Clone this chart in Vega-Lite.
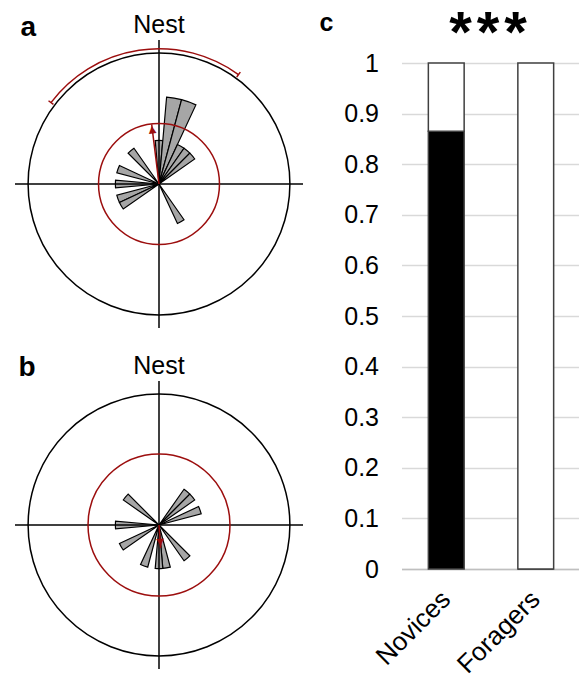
{
  "$schema": "https://vega.github.io/schema/vega-lite/v6.json",
  "padding": {"left": 14, "top": 0, "right": 0, "bottom": 0},
  "background": "white",
  "config": {"view": {"stroke": null}, "font": "Liberation Sans"},
  "datasets": {
    "petalsA": [
      {"from": -5, "to": 5, "count": 1},
      {"from": 5, "to": 15, "count": 2},
      {"from": 15, "to": 25, "count": 2},
      {"from": 25, "to": 35, "count": 1},
      {"from": 35, "to": 45, "count": 1},
      {"from": 45, "to": 55, "count": 1},
      {"from": -45, "to": -35, "count": 1},
      {"from": -75, "to": -65, "count": 1},
      {"from": -95, "to": -85, "count": 1},
      {"from": -115, "to": -105, "count": 1},
      {"from": -125, "to": -115, "count": 1},
      {"from": 145, "to": 155, "count": 1}
    ],
    "petalsB": [
      {"from": 35, "to": 45, "count": 1},
      {"from": 45, "to": 55, "count": 1},
      {"from": 65, "to": 75, "count": 1},
      {"from": -55, "to": -45, "count": 1},
      {"from": -95, "to": -85, "count": 1},
      {"from": -125, "to": -115, "count": 1},
      {"from": -165, "to": -155, "count": 1},
      {"from": 165, "to": 175, "count": 1},
      {"from": 175, "to": 185, "count": 1},
      {"from": 135, "to": 145, "count": 1}
    ],
    "meanA": [{"angle": -7, "length": 1.375, "ci_lo": -53, "ci_hi": 36}],
    "meanB": [{"angle": 176, "length": 0.53}],
    "bars": [
      {"group": "Novices", "response": "toward nest", "proportion": 0.865},
      {"group": "Novices", "response": "away", "proportion": 0.135},
      {"group": "Foragers", "response": "toward nest", "proportion": 0},
      {"group": "Foragers", "response": "away", "proportion": 1}
    ]
  },
  "spacing": 15.5,
  "hconcat": [
    {
      "spacing": 12,
      "vconcat": [
        {
          "width": 288, "height": 328,
          "layer": [
            {"data": {"name": "petalsA"},
             "mark": {"type": "arc", "fill": "#a6a6a6", "stroke": "black", "strokeWidth": 1.2},
             "encoding": {
               "x": {"datum": 0, "type": "quantitative", "scale": {"domain": [-3.3, 3.3], "nice": false, "zero": false}, "axis": null},
               "y": {"datum": 0, "type": "quantitative", "scale": {"domain": [-3.3, 4.2167], "nice": false, "zero": false}, "axis": null},
               "theta": {"field": "from", "type": "quantitative", "stack": null, "scale": {"domain": [0, 360], "range": [0, 6.283185307179586]}},
               "theta2": {"field": "to"},
               "radius": {"field": "count", "type": "quantitative", "scale": {"type": "linear", "domain": [0, 3.3], "range": [0, 144], "zero": true}}
             }},
            {"data": {"values": [{}]},
             "mark": {"type": "rule", "stroke": "black", "strokeWidth": 1.5},
             "encoding": {"x": {"datum": -3.3, "type": "quantitative"}, "x2": {"datum": 3.3}, "y": {"datum": 0, "type": "quantitative"}}},
            {"data": {"values": [{}]},
             "mark": {"type": "rule", "stroke": "black", "strokeWidth": 1.5},
             "encoding": {"x": {"datum": 0, "type": "quantitative"}, "y": {"datum": -3.3, "type": "quantitative"}, "y2": {"datum": 3.3}}},
            {"data": {"values": [{}]},
             "mark": {"type": "arc", "fill": null, "stroke": "black", "strokeWidth": 1.5},
             "encoding": {
               "x": {"datum": 0, "type": "quantitative"}, "y": {"datum": 0, "type": "quantitative"},
               "theta": {"datum": 0, "type": "quantitative", "stack": null}, "theta2": {"datum": 360},
               "radius": {"datum": 3, "type": "quantitative"}
             }},
            {"data": {"values": [{}]},
             "mark": {"type": "arc", "fill": null, "stroke": "#9c0e0e", "strokeWidth": 1.5},
             "encoding": {
               "x": {"datum": 0, "type": "quantitative"}, "y": {"datum": 0, "type": "quantitative"},
               "theta": {"datum": 0, "type": "quantitative", "stack": null}, "theta2": {"datum": 360},
               "radius": {"datum": 1.386, "type": "quantitative"}
             }},
            {"data": {"name": "meanA"},
             "mark": {"type": "arc", "fill": null, "stroke": "#9c0e0e", "strokeWidth": 1.5},
             "encoding": {
               "x": {"datum": 0, "type": "quantitative"}, "y": {"datum": 0, "type": "quantitative"},
               "theta": {"field": "ci_lo", "type": "quantitative", "stack": null}, "theta2": {"field": "ci_hi"},
               "radius": {"datum": 3.1, "type": "quantitative"}, "radius2": {"datum": 3.1}
             }},
            {"data": {"name": "meanA"},
             "mark": {"type": "arc", "fill": null, "stroke": "#9c0e0e", "strokeWidth": 1.5},
             "encoding": {
               "x": {"datum": 0, "type": "quantitative"}, "y": {"datum": 0, "type": "quantitative"},
               "theta": {"field": "ci_lo", "type": "quantitative", "stack": null}, "theta2": {"field": "ci_lo"},
               "radius": {"datum": 3.03, "type": "quantitative"}, "radius2": {"datum": 3.17}
             }},
            {"data": {"name": "meanA"},
             "mark": {"type": "arc", "fill": null, "stroke": "#9c0e0e", "strokeWidth": 1.5},
             "encoding": {
               "x": {"datum": 0, "type": "quantitative"}, "y": {"datum": 0, "type": "quantitative"},
               "theta": {"field": "ci_hi", "type": "quantitative", "stack": null}, "theta2": {"field": "ci_hi"},
               "radius": {"datum": 3.03, "type": "quantitative"}, "radius2": {"datum": 3.17}
             }},
            {"data": {"name": "meanA"},
             "mark": {"type": "arc", "fill": null, "stroke": "#9c0e0e", "strokeWidth": 1.5},
             "encoding": {
               "x": {"datum": 0, "type": "quantitative"}, "y": {"datum": 0, "type": "quantitative"},
               "theta": {"field": "angle", "type": "quantitative", "stack": null}, "theta2": {"field": "angle"},
               "radius": {"field": "length", "type": "quantitative"}
             }},
            {"data": {"name": "meanA"},
             "mark": {"type": "text", "text": "▲", "font": "DejaVu Sans", "fontSize": 10, "fill": "#9c0e0e", "align": "center", "baseline": "top"},
             "encoding": {
               "x": {"datum": 0, "type": "quantitative"}, "y": {"datum": 0, "type": "quantitative"},
               "theta": {"field": "angle", "type": "quantitative", "stack": null},
               "radius": {"field": "length", "type": "quantitative"},
               "angle": {"field": "angle", "type": "quantitative", "scale": null}
             }},
            {"data": {"values": [{}]},
             "mark": {"type": "text", "text": "Nest", "fontSize": 25, "align": "center", "baseline": "alphabetic", "fill": "black"},
             "encoding": {"x": {"datum": 0, "type": "quantitative"}, "y": {"datum": 3.46, "type": "quantitative"}}},
            {"data": {"values": [{}]},
             "mark": {"type": "text", "text": "a", "fontSize": 28, "fontWeight": "bold", "align": "left", "baseline": "alphabetic", "fill": "black"},
             "encoding": {"x": {"datum": -3.174, "type": "quantitative"}, "y": {"datum": 3.403, "type": "quantitative"}}}
          ]
        },
        {
          "width": 288, "height": 328,
          "layer": [
            {"data": {"name": "petalsB"},
             "mark": {"type": "arc", "fill": "#a6a6a6", "stroke": "black", "strokeWidth": 1.2},
             "encoding": {
               "x": {"datum": 0, "type": "quantitative", "scale": {"domain": [-3.3, 3.3], "nice": false, "zero": false}, "axis": null},
               "y": {"datum": 0, "type": "quantitative", "scale": {"domain": [-3.3, 4.2167], "nice": false, "zero": false}, "axis": null},
               "theta": {"field": "from", "type": "quantitative", "stack": null, "scale": {"domain": [0, 360], "range": [0, 6.283185307179586]}},
               "theta2": {"field": "to"},
               "radius": {"field": "count", "type": "quantitative", "scale": {"type": "linear", "domain": [0, 3.3], "range": [0, 144], "zero": true}}
             }},
            {"data": {"values": [{}]},
             "mark": {"type": "rule", "stroke": "black", "strokeWidth": 1.5},
             "encoding": {"x": {"datum": -3.3, "type": "quantitative"}, "x2": {"datum": 3.3}, "y": {"datum": 0, "type": "quantitative"}}},
            {"data": {"values": [{}]},
             "mark": {"type": "rule", "stroke": "black", "strokeWidth": 1.5},
             "encoding": {"x": {"datum": 0, "type": "quantitative"}, "y": {"datum": -3.3, "type": "quantitative"}, "y2": {"datum": 3.3}}},
            {"data": {"values": [{}]},
             "mark": {"type": "arc", "fill": null, "stroke": "black", "strokeWidth": 1.5},
             "encoding": {
               "x": {"datum": 0, "type": "quantitative"}, "y": {"datum": 0, "type": "quantitative"},
               "theta": {"datum": 0, "type": "quantitative", "stack": null}, "theta2": {"datum": 360},
               "radius": {"datum": 3, "type": "quantitative"}
             }},
            {"data": {"values": [{}]},
             "mark": {"type": "arc", "fill": null, "stroke": "#9c0e0e", "strokeWidth": 1.5},
             "encoding": {
               "x": {"datum": 0, "type": "quantitative"}, "y": {"datum": 0, "type": "quantitative"},
               "theta": {"datum": 0, "type": "quantitative", "stack": null}, "theta2": {"datum": 360},
               "radius": {"datum": 1.627, "type": "quantitative"}
             }},
            {"data": {"name": "meanB"},
             "mark": {"type": "arc", "fill": null, "stroke": "#9c0e0e", "strokeWidth": 1.5},
             "encoding": {
               "x": {"datum": 0, "type": "quantitative"}, "y": {"datum": 0, "type": "quantitative"},
               "theta": {"field": "angle", "type": "quantitative", "stack": null}, "theta2": {"field": "angle"},
               "radius": {"field": "length", "type": "quantitative"}
             }},
            {"data": {"name": "meanB"},
             "mark": {"type": "text", "text": "▲", "font": "DejaVu Sans", "fontSize": 10, "fill": "#9c0e0e", "align": "center", "baseline": "top"},
             "encoding": {
               "x": {"datum": 0, "type": "quantitative"}, "y": {"datum": 0, "type": "quantitative"},
               "theta": {"field": "angle", "type": "quantitative", "stack": null},
               "radius": {"field": "length", "type": "quantitative"},
               "angle": {"field": "angle", "type": "quantitative", "scale": null}
             }},
            {"data": {"values": [{}]},
             "mark": {"type": "text", "text": "Nest", "fontSize": 25, "align": "center", "baseline": "alphabetic", "fill": "black"},
             "encoding": {"x": {"datum": 0, "type": "quantitative"}, "y": {"datum": 3.47, "type": "quantitative"}}},
            {"data": {"values": [{}]},
             "mark": {"type": "text", "text": "b", "fontSize": 28, "fontWeight": "bold", "align": "left", "baseline": "alphabetic", "fill": "black"},
             "encoding": {"x": {"datum": -3.22, "type": "quantitative"}, "y": {"datum": 3.42, "type": "quantitative"}}}
          ]
        }
      ]
    },
    {
      "width": 179, "height": 569,
      "layer": [
        {"data": {"name": "bars"},
         "mark": {"type": "bar", "stroke": "#404040", "strokeWidth": 1.5},
         "encoding": {
           "x": {"field": "group", "type": "nominal", "sort": ["Novices", "Foragers"],
                 "scale": {"paddingInner": 0.6, "paddingOuter": 0.3},
                 "axis": {"title": null, "labelAngle": -45, "labelAlign": "right", "labelBaseline": "middle", "labelFontSize": 26, "labelColor": "black", "ticks": false, "domain": true, "domainColor": "#bfbfbf", "domainWidth": 1.5, "labelPadding": 26}},
           "y": {"field": "proportion", "type": "quantitative", "stack": "zero",
                 "scale": {"domain": [0, 1.12451], "nice": false, "zero": true},
                 "axis": {"title": null, "values": [0, 0.1, 0.2, 0.3, 0.4, 0.5, 0.6, 0.7, 0.8, 0.9, 1], "format": "~g", "labelFontSize": 25, "labelColor": "black", "labelPadding": 23, "ticks": false, "domain": false, "grid": true, "gridColor": "#d9d9d9", "gridWidth": 1.5}},
           "fill": {"field": "response", "type": "nominal", "scale": {"domain": ["toward nest", "away"], "range": ["black", "white"]}, "legend": null},
           "order": {"field": "response", "sort": "descending"}
         }},
        {"data": {"values": [{}]},
         "mark": {"type": "text", "text": "*\u200a*\u200a*", "fontSize": 58, "fontWeight": "bold", "align": "center", "baseline": "alphabetic", "dx": -3, "fill": "black"},
         "encoding": {"y": {"datum": 1.0225, "type": "quantitative"}}},
        {"data": {"values": [{}]},
         "mark": {"type": "text", "text": "c", "fontSize": 25, "fontWeight": "bold", "align": "left", "baseline": "alphabetic", "dx": -171.5, "fill": "black"},
         "encoding": {"y": {"datum": 1.0632, "type": "quantitative"}}}
      ]
    }
  ]
}
